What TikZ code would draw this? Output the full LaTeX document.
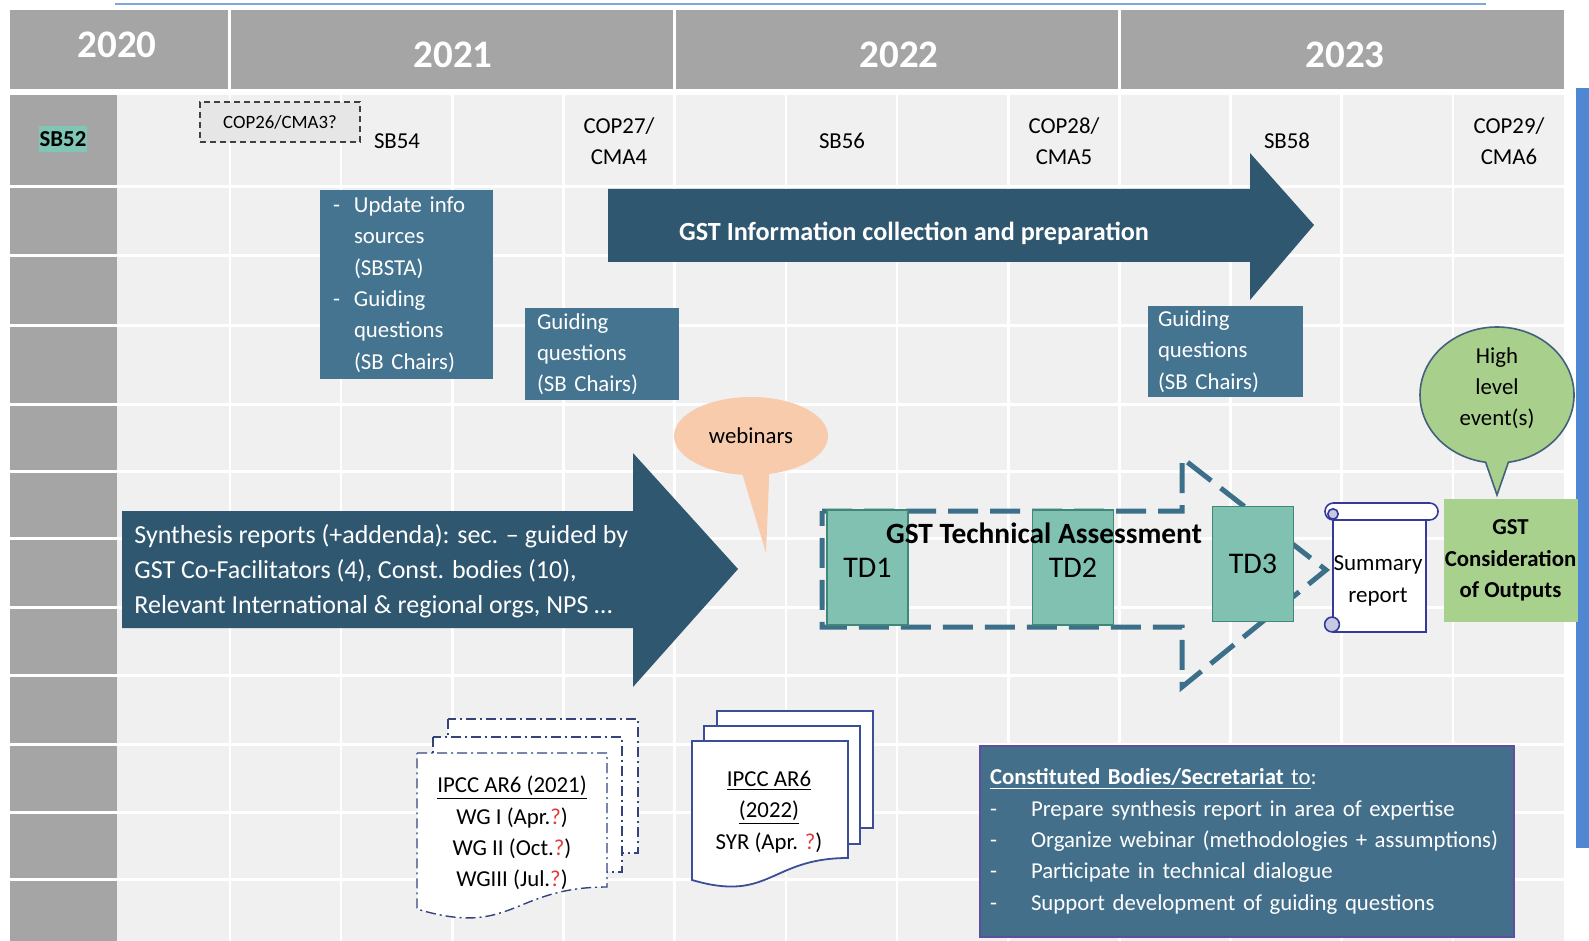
\documentclass[tikz,border=0pt]{standalone}
\usepackage{fontspec}
\setmainfont{Carlito}
\usetikzlibrary{shapes.callouts}

\definecolor{hdrgray}{HTML}{A5A5A5}
\definecolor{cellgray}{HTML}{F0F0F0}
\definecolor{navy}{HTML}{2F5770}
\definecolor{steel}{HTML}{44748F}
\definecolor{cbblue}{HTML}{436F8B}
\definecolor{cbborder}{HTML}{5E4E9E}
\definecolor{tadash}{HTML}{3C6F89}
\definecolor{tdfill}{HTML}{80C1B1}
\definecolor{tdline}{HTML}{3F8877}
\definecolor{outgreen}{HTML}{A9D18E}
\definecolor{hlgreen}{HTML}{A8CF8C}
\definecolor{hlline}{HTML}{43607C}
\definecolor{peach}{HTML}{F7CBAC}
\definecolor{scrollline}{HTML}{36399A}
\definecolor{curlfill}{HTML}{C6C9E2}
\definecolor{sbteal}{HTML}{80C6B6}
\definecolor{sidebar}{HTML}{4F87D3}
\definecolor{topline}{HTML}{7DA8D8}
\definecolor{docdd}{HTML}{35437C}
\definecolor{docsl}{HTML}{3C4E98}
\definecolor{qred}{HTML}{E23A3A}
\definecolor{copfill}{HTML}{E6E6E6}

\newcommand{\qmark}{\textcolor{qred}{?}}
\newcommand{\dashlead}[1]{\makebox[#1][l]{-}}
\newcommand{\padlead}[1]{\hspace*{#1}}

\begin{document}
\begin{tikzpicture}[x=0.5pt, y=-0.5pt,
  year/.style={text=white, font=\fontsize{19.5}{23}\selectfont\bfseries, inner sep=0},
  slot/.style={align=center, inner sep=0},
  sbox/.style={fill=steel, text=white, align=left, inner ysep=0},
  tdbox/.style={fill=tdfill, draw=tdline, line width=0.8pt, minimum width=40.5pt,
    minimum height=57.5pt, font=\fontsize{15}{18}\selectfont, inner sep=0},
  gridline/.style={white, line width=1.5pt},
  docdash/.style={draw=docdd, fill=white, line width=0.7pt,
    dash pattern=on 5pt off 2pt on 1pt off 2pt},
  docsolid/.style={draw=docsl, fill=white, line width=0.9pt},
  scrollpart/.style={draw=scrollline, line width=0.8pt}]
\fontsize{11.4}{15.65}\selectfont
\useasboundingbox (0,0) rectangle (1589,941);
\fill[white] (0,0) rectangle (1589,941);

% timeline frame
\draw[topline, line width=1.2pt] (115,4) -- (1486,4);
\fill[hdrgray] (10,10) rectangle (1564,89);
\foreach \x in {229,674,1119} \draw[gridline] (\x,10) -- (\x,89);
\fill[cellgray] (117,95) rectangle (1564,941);
\fill[hdrgray] (10,95) rectangle (117,941);
\foreach \y in {187,256,325,404,471,538,607,675,744,812,879}
  \draw[gridline] (10,\y) -- (1564,\y);
\foreach \k in {0,...,11}
  \draw[white, line width=1.3pt] ({230+111.17*\k},95) -- ({230+111.17*\k},941);
\fill[sidebar] (1576,88) rectangle (1589,848);

% years
\node[year] (y2020) at (117,45) {2020};
\node[year] (y2021) at (453,55) {2021};
\node[year] (y2022) at (899,55) {2022};
\node[year] (y2023) at (1345,55) {2023};

% sessions
\node[fill=sbteal, inner xsep=0.5pt, inner ysep=2.5pt, font=\bfseries] (sb52) at (63,139) {SB52};
\node[draw=black!75, dashed, dash pattern=on 3pt off 2pt, line width=0.6pt, fill=copfill,
  minimum width=80pt, minimum height=20pt, inner sep=0,
  font=\fontsize{9.4}{11}\selectfont] (cop26) at (280,122) {COP26/CMA3?};
\node[slot] (sb54) at (397,141) {SB54};
\node[slot] (cop27) at (619,141) {COP27/\\CMA4};
\node[slot] (sb56) at (842,141) {SB56};
\node[slot] (cop28) at (1064,141) {COP28/\\CMA5};
\node[slot] (sb58) at (1287,141) {SB58};
\node[slot] (cop29) at (1509,141) {COP29/\\CMA6};

% information collection arrow
\fill[navy] (608,189) -- (1250,189) -- (1250,153) -- (1314,225) -- (1250,300)
  -- (1250,262) -- (608,262) -- cycle;
\node[text=white, font=\fontsize{13.1}{16}\selectfont\bfseries, anchor=base, inner sep=0]
  (infotext) at (914,240.5) {GST Information collection and preparation};

% guiding question boxes
\node[sbox, text width=73.5pt, inner xsep=6.5pt, minimum height=94.5pt] (update) at (406.5,284.5)
  {\dashlead{10.5pt}Update info\\\padlead{10.5pt}sources\\\padlead{10.5pt}(SBSTA)\\
   \dashlead{10.5pt}Guiding\\\padlead{10.5pt}questions\\\padlead{10.5pt}(SB Chairs)};
\node[sbox, text width=65pt, inner xsep=6pt, minimum height=46pt] (guide1) at (602,354)
  {Guiding\\questions\\(SB Chairs)};
\node[sbox, text width=67.5pt, inner xsep=5pt, minimum height=45.5pt] (guide2) at (1225.5,351.5)
  {Guiding\\questions\\(SB Chairs)};

% synthesis reports arrow
\fill[navy] (122,511) -- (633,511) -- (633,453) -- (738,569) -- (633,687)
  -- (633,628) -- (122,628) -- cycle;
\node[text=white, anchor=west, align=left, inner sep=0, font=\fontsize{13}{17.5}\selectfont]
  (synth) at (134,571)
  {Synthesis reports (+addenda): sec. -- guided by\\GST Co-Facilitators (4), Const. bodies (10),\\Relevant International \& regional orgs, NPS …};

% webinars bubble
\node[ellipse callout, fill=peach, minimum width=77pt, minimum height=39pt, inner sep=0,
  callout absolute pointer={(766,553)}, callout pointer arc=20] (webinars) at (751,436) {webinars};

% technical assessment
\draw[tadash, line width=2.5pt, dash pattern=on 15pt off 6pt]
  (822,511) -- (1182,511) -- (1182,458) -- (1326,570) -- (1182,687) -- (1182,627) -- (822,627) -- cycle;
\node[tdbox] (td1) at (867.5,567.5) {TD1};
\node[tdbox] (td2) at (1073,567.5) {TD2};
\node[tdbox] (td3) at (1253,564) {TD3};
\node[font=\fontsize{14.7}{17}\selectfont\bfseries, anchor=base, inner sep=0]
  (tatext) at (1044,543) {GST Technical Assessment};

% summary report scroll
\fill[white] (1333,511) rectangle (1426,632);
\draw[scrollpart] (1426,512) -- (1426,632) -- (1332,632);
\draw[scrollpart] (1333,512) -- (1333,620);
\draw[scrollpart, fill=white, rounded corners=4.2pt] (1325,503) rectangle (1438,520);
\draw[scrollpart, fill=curlfill] (1333,514) circle[radius=2.6pt];
\draw[scrollpart, fill=curlfill] (1332,624.5) circle[radius=3.7pt];
\node[slot, font=\fontsize{11.5}{15.65}\selectfont] (summary) at (1378,581) {Summary\\report};

% consideration of outputs
\node[fill=outgreen, minimum width=67pt, minimum height=61.5pt, align=center, inner sep=0,
  font=\bfseries] (outputs) at (1510.5,560.5) {GST\\Consideration\\of Outputs};
\node[ellipse callout, fill=hlgreen, draw=hlline, line width=0.8pt, minimum width=77pt,
  minimum height=68pt, inner sep=0, callout absolute pointer={(1497,495)},
  callout pointer arc=17] (hlevent) at (1497,395) {};
\node[slot] (hltext) at (1497,388) {High\\level\\event(s)};

% IPCC reports
\path[docdash] (448,719) rectangle (638,853);
\path[docdash] (433,737) rectangle (622,872);
\path[docdash] (417,753) -- (607,753) -- (607,887) .. controls (512,887) and (512,938) .. (417,909) -- cycle;
\node[slot] (ipcc21) at (512,833)
  {\underline{IPCC AR6 (2021)}\\WG I (Apr.\qmark)\\WG II (Oct.\qmark)\\WGIII (Jul.\qmark)};
\path[docsolid] (717,711) rectangle (873,828);
\path[docsolid] (704,726) rectangle (860,844);
\path[docsolid] (692,741) -- (848,741) -- (848,858) .. controls (770,858) and (770,903) .. (692,880) -- cycle;
\node[slot] (ipcc22) at (769,812) {\underline{IPCC AR6}\\\underline{(2022)}\\SYR (Apr. \qmark)};

% constituted bodies
\node[fill=cbblue, draw=cbborder, line width=0.9pt, text=white, text width=257pt,
  inner xsep=5pt, inner ysep=0, minimum height=95.5pt, align=left] (cbs) at (1247,841.5)
  {\underline{\textbf{Constituted Bodies/Secretariat} to}:\\
   \dashlead{20.5pt}Prepare synthesis report in area of expertise\\
   \dashlead{20.5pt}Organize webinar (methodologies + assumptions)\\
   \dashlead{20.5pt}Participate in technical dialogue\\
   \dashlead{20.5pt}Support development of guiding questions};
\end{tikzpicture}
\end{document}
